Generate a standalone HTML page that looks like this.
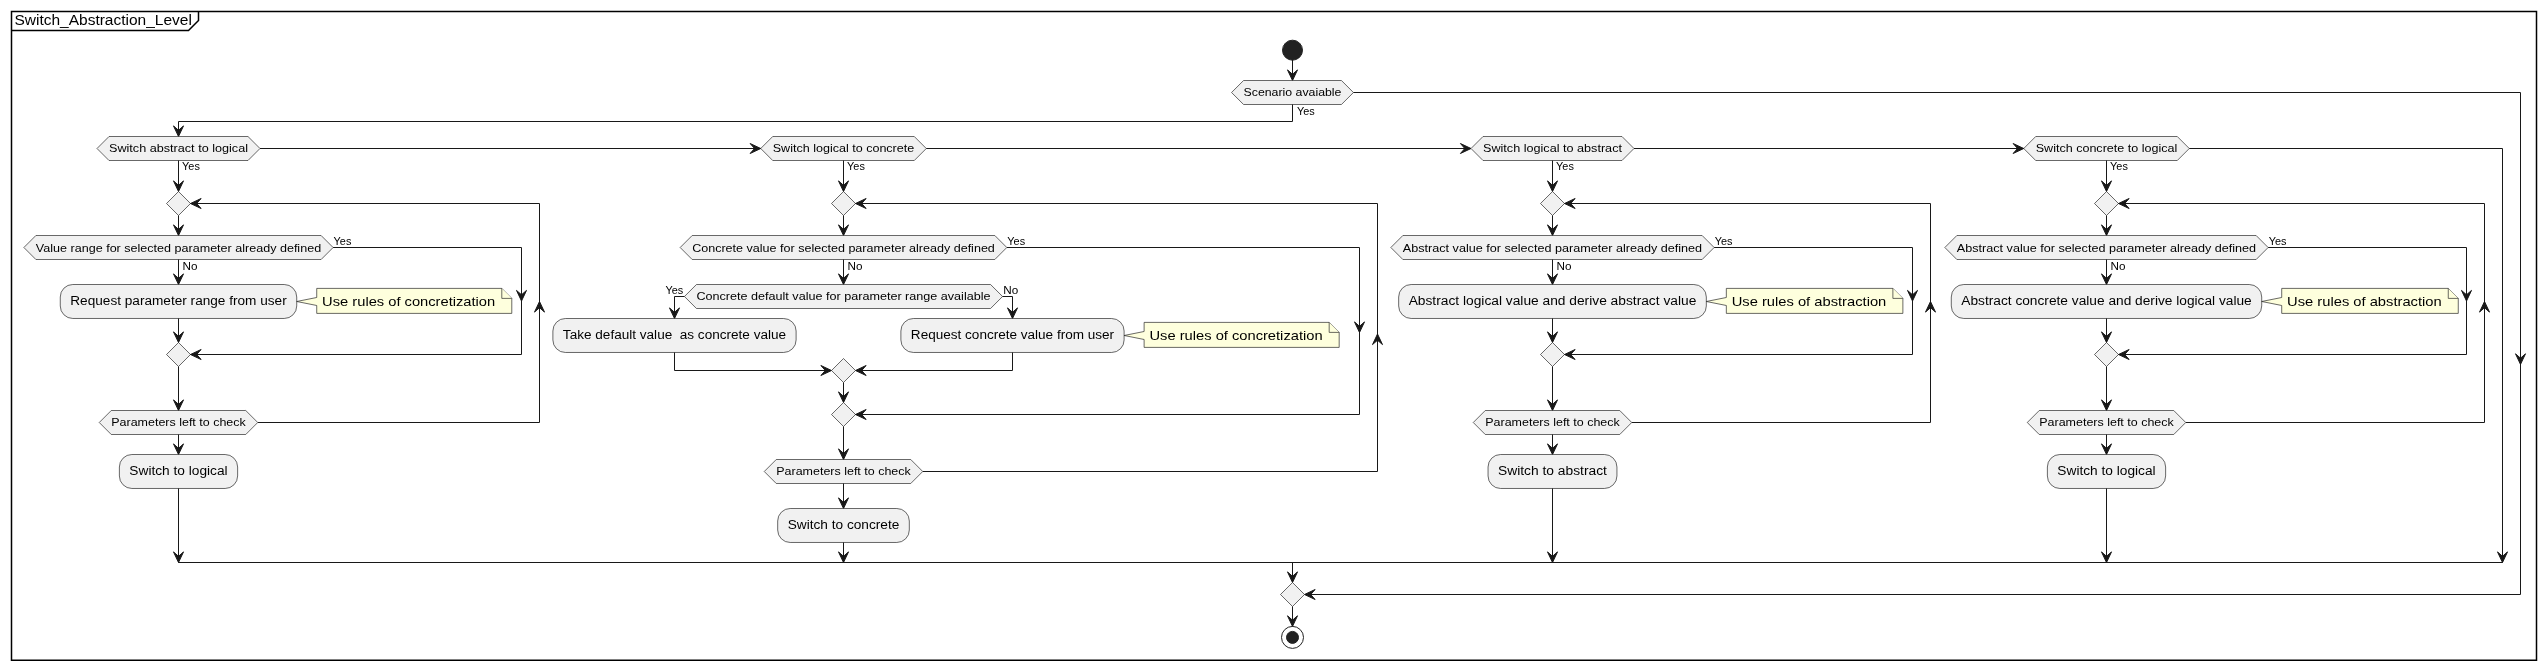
<!DOCTYPE html>
<html><head><meta charset="utf-8"><style>
html,body{margin:0;padding:0;background:#FFFFFF;width:2546px;height:670px;overflow:hidden}
svg{display:block;will-change:transform}
text{font-family:"Liberation Sans",sans-serif}
</style></head><body>
<svg width="2546" height="670" viewBox="0 0 2546 670">
<rect x="11.5" y="11.5" width="2525" height="648.75" fill="none" stroke="#000000" stroke-width="1.5"/>
<polyline points="11.5,30.5 188.5,30.5 198.5,20.5 198.5,11.5" fill="none" stroke="#000000" stroke-width="1.5"/>
<text x="14.5" y="25.2" font-size="14" textLength="177.33" lengthAdjust="spacingAndGlyphs" fill="#000000">Switch_Abstraction_Level</text>
<circle cx="1292.5" cy="50.2" r="10" fill="#222222" stroke="#222222" stroke-width="1"/>
<polyline points="1292.5,60 1292.5,80.5" fill="none" stroke="#181818" stroke-width="1"/>
<polygon points="1287.5,69.9 1292.5,80.5 1297.5,69.9 1292.5,74.3" fill="#181818" stroke="#181818" stroke-width="1"/>
<polygon points="1243.55,80.5 1341.45,80.5 1353.45,92.5 1341.45,104.5 1243.55,104.5 1231.55,92.5" fill="#F1F1F1" stroke="#181818" stroke-width="0.65"/>
<text x="1243.55" y="95.9" font-size="11" textLength="97.91" lengthAdjust="spacingAndGlyphs" fill="#000000">Scenario avaiable</text>
<text x="1297" y="114.8" font-size="11" textLength="17.77" lengthAdjust="spacingAndGlyphs" fill="#000000">Yes</text>
<polyline points="1292.5,104.5 1292.5,121.5 178.5,121.5 178.5,136.5" fill="none" stroke="#181818" stroke-width="1"/>
<polygon points="173.5,125.9 178.5,136.5 183.5,125.9 178.5,130.3" fill="#181818" stroke="#181818" stroke-width="1"/>
<polyline points="1353.45,92.5 2520.5,92.5 2520.5,594.5 1304.5,594.5" fill="none" stroke="#181818" stroke-width="1"/>
<polygon points="2515.5,353.8 2520.5,364.4 2525.5,353.8 2520.5,358.2" fill="#181818" stroke="#181818" stroke-width="1"/>
<polygon points="1315.1,589.5 1304.5,594.5 1315.1,599.5 1310.7,594.5" fill="#181818" stroke="#181818" stroke-width="1"/>
<polygon points="109.01,136.5 247.99,136.5 259.99,148.5 247.99,160.5 109.01,160.5 97.01,148.5" fill="#F1F1F1" stroke="#181818" stroke-width="0.65"/>
<text x="109.01" y="151.9" font-size="11" textLength="138.98" lengthAdjust="spacingAndGlyphs" fill="#000000">Switch abstract to logical</text>
<text x="182.1" y="170.3" font-size="11" textLength="17.77" lengthAdjust="spacingAndGlyphs" fill="#000000">Yes</text>
<polyline points="178.5,160.5 178.5,191.5" fill="none" stroke="#181818" stroke-width="1"/>
<polygon points="173.5,180.9 178.5,191.5 183.5,180.9 178.5,185.3" fill="#181818" stroke="#181818" stroke-width="1"/>
<polygon points="178.5,191.5 190.5,203.5 178.5,215.5 166.5,203.5" fill="#F1F1F1" stroke="#181818" stroke-width="0.65"/>
<polyline points="178.5,215.5 178.5,235.5" fill="none" stroke="#181818" stroke-width="1"/>
<polygon points="173.5,224.9 178.5,235.5 183.5,224.9 178.5,229.3" fill="#181818" stroke="#181818" stroke-width="1"/>
<polygon points="772.73,136.5 914.27,136.5 926.27,148.5 914.27,160.5 772.73,160.5 760.73,148.5" fill="#F1F1F1" stroke="#181818" stroke-width="0.65"/>
<text x="772.73" y="151.9" font-size="11" textLength="141.53" lengthAdjust="spacingAndGlyphs" fill="#000000">Switch logical to concrete</text>
<text x="847.1" y="170.3" font-size="11" textLength="17.77" lengthAdjust="spacingAndGlyphs" fill="#000000">Yes</text>
<polyline points="843.5,160.5 843.5,191.5" fill="none" stroke="#181818" stroke-width="1"/>
<polygon points="838.5,180.9 843.5,191.5 848.5,180.9 843.5,185.3" fill="#181818" stroke="#181818" stroke-width="1"/>
<polygon points="843.5,191.5 855.5,203.5 843.5,215.5 831.5,203.5" fill="#F1F1F1" stroke="#181818" stroke-width="0.65"/>
<polyline points="843.5,215.5 843.5,235.5" fill="none" stroke="#181818" stroke-width="1"/>
<polygon points="838.5,224.9 843.5,235.5 848.5,224.9 843.5,229.3" fill="#181818" stroke="#181818" stroke-width="1"/>
<polygon points="1483.01,136.5 1621.99,136.5 1633.99,148.5 1621.99,160.5 1483.01,160.5 1471.01,148.5" fill="#F1F1F1" stroke="#181818" stroke-width="0.65"/>
<text x="1483.01" y="151.9" font-size="11" textLength="138.98" lengthAdjust="spacingAndGlyphs" fill="#000000">Switch logical to abstract</text>
<text x="1556.1" y="170.3" font-size="11" textLength="17.77" lengthAdjust="spacingAndGlyphs" fill="#000000">Yes</text>
<polyline points="1552.5,160.5 1552.5,191.5" fill="none" stroke="#181818" stroke-width="1"/>
<polygon points="1547.5,180.9 1552.5,191.5 1557.5,180.9 1552.5,185.3" fill="#181818" stroke="#181818" stroke-width="1"/>
<polygon points="1552.5,191.5 1564.5,203.5 1552.5,215.5 1540.5,203.5" fill="#F1F1F1" stroke="#181818" stroke-width="0.65"/>
<polyline points="1552.5,215.5 1552.5,235.5" fill="none" stroke="#181818" stroke-width="1"/>
<polygon points="1547.5,224.9 1552.5,235.5 1557.5,224.9 1552.5,229.3" fill="#181818" stroke="#181818" stroke-width="1"/>
<polygon points="2035.73,136.5 2177.27,136.5 2189.27,148.5 2177.27,160.5 2035.73,160.5 2023.73,148.5" fill="#F1F1F1" stroke="#181818" stroke-width="0.65"/>
<text x="2035.73" y="151.9" font-size="11" textLength="141.53" lengthAdjust="spacingAndGlyphs" fill="#000000">Switch concrete to logical</text>
<text x="2110.1" y="170.3" font-size="11" textLength="17.77" lengthAdjust="spacingAndGlyphs" fill="#000000">Yes</text>
<polyline points="2106.5,160.5 2106.5,191.5" fill="none" stroke="#181818" stroke-width="1"/>
<polygon points="2101.5,180.9 2106.5,191.5 2111.5,180.9 2106.5,185.3" fill="#181818" stroke="#181818" stroke-width="1"/>
<polygon points="2106.5,191.5 2118.5,203.5 2106.5,215.5 2094.5,203.5" fill="#F1F1F1" stroke="#181818" stroke-width="0.65"/>
<polyline points="2106.5,215.5 2106.5,235.5" fill="none" stroke="#181818" stroke-width="1"/>
<polygon points="2101.5,224.9 2106.5,235.5 2111.5,224.9 2106.5,229.3" fill="#181818" stroke="#181818" stroke-width="1"/>
<polyline points="259.99,148.5 760.73,148.5" fill="none" stroke="#181818" stroke-width="1"/>
<polygon points="750.13,143.5 760.73,148.5 750.13,153.5 754.53,148.5" fill="#181818" stroke="#181818" stroke-width="1"/>
<polyline points="926.27,148.5 1471.01,148.5" fill="none" stroke="#181818" stroke-width="1"/>
<polygon points="1460.41,143.5 1471.01,148.5 1460.41,153.5 1464.81,148.5" fill="#181818" stroke="#181818" stroke-width="1"/>
<polyline points="1633.99,148.5 2023.73,148.5" fill="none" stroke="#181818" stroke-width="1"/>
<polygon points="2013.13,143.5 2023.73,148.5 2013.13,153.5 2017.53,148.5" fill="#181818" stroke="#181818" stroke-width="1"/>
<polyline points="2189.27,148.5 2502.5,148.5 2502.5,562.5" fill="none" stroke="#181818" stroke-width="1"/>
<polygon points="2497.5,551.9 2502.5,562.5 2507.5,551.9 2502.5,556.3" fill="#181818" stroke="#181818" stroke-width="1"/>
<polygon points="35.88,235.5 321.12,235.5 333.12,247.5 321.12,259.5 35.88,259.5 23.88,247.5" fill="#F1F1F1" stroke="#181818" stroke-width="0.65"/>
<text x="35.88" y="251.7" font-size="11" textLength="285.25" lengthAdjust="spacingAndGlyphs" fill="#000000">Value range for selected parameter already defined</text>
<text x="333.62" y="244.7" font-size="11" textLength="17.77" lengthAdjust="spacingAndGlyphs" fill="#000000">Yes</text>
<text x="182.5" y="269.5" font-size="11" textLength="14.97" lengthAdjust="spacingAndGlyphs" fill="#000000">No</text>
<polyline points="178.5,259.5 178.5,284.5" fill="none" stroke="#181818" stroke-width="1"/>
<polygon points="173.5,273.9 178.5,284.5 183.5,273.9 178.5,278.3" fill="#181818" stroke="#181818" stroke-width="1"/>
<rect x="60.27" y="284.5" width="236.45" height="33.97" rx="12.5" ry="12.5" fill="#F1F1F1" stroke="#181818" stroke-width="0.65"/>
<text x="70.27" y="304.5" font-size="12" textLength="216.45" lengthAdjust="spacingAndGlyphs" fill="#000000">Request parameter range from user</text>
<path d="M316.73,288.4 L316.73,297.49 L296.73,301.49 L316.73,305.49 L316.73,313.4 L511.79,313.4 L511.79,298.4 L501.79,288.4 Z" fill="#FEFFDD" stroke="#181818" stroke-width="0.65"/>
<path d="M501.79,288.4 L501.79,298.4 L511.79,298.4" fill="#FEFFDD" stroke="#181818" stroke-width="0.65"/>
<text x="322.13" y="305.9" font-size="13" textLength="173.06" lengthAdjust="spacingAndGlyphs" fill="#000000">Use rules of concretization</text>
<polyline points="178.5,318.47 178.5,342.5" fill="none" stroke="#181818" stroke-width="1"/>
<polygon points="173.5,331.9 178.5,342.5 183.5,331.9 178.5,336.3" fill="#181818" stroke="#181818" stroke-width="1"/>
<polygon points="178.5,342.5 190.5,354.5 178.5,366.5 166.5,354.5" fill="#F1F1F1" stroke="#181818" stroke-width="0.65"/>
<polyline points="333.12,247.5 521.5,247.5 521.5,354.5 190.5,354.5" fill="none" stroke="#181818" stroke-width="1"/>
<polygon points="201.1,349.5 190.5,354.5 201.1,359.5 196.7,354.5" fill="#181818" stroke="#181818" stroke-width="1"/>
<polygon points="516.5,290.4 521.5,301 526.5,290.4 521.5,294.8" fill="#181818" stroke="#181818" stroke-width="1"/>
<polyline points="178.5,366.5 178.5,410.5" fill="none" stroke="#181818" stroke-width="1"/>
<polygon points="173.5,399.9 178.5,410.5 183.5,399.9 178.5,404.3" fill="#181818" stroke="#181818" stroke-width="1"/>
<polygon points="111.24,410.5 245.76,410.5 257.76,422.5 245.76,434.5 111.24,434.5 99.24,422.5" fill="#F1F1F1" stroke="#181818" stroke-width="0.65"/>
<text x="111.24" y="425.9" font-size="11" textLength="134.52" lengthAdjust="spacingAndGlyphs" fill="#000000">Parameters left to check</text>
<polyline points="257.76,422.5 539.5,422.5 539.5,203.5 190.5,203.5" fill="none" stroke="#181818" stroke-width="1"/>
<polygon points="201.1,198.5 190.5,203.5 201.1,208.5 196.7,203.5" fill="#181818" stroke="#181818" stroke-width="1"/>
<polygon points="534.5,312.1 539.5,301.5 544.5,312.1 539.5,307.7" fill="#181818" stroke="#181818" stroke-width="1"/>
<polyline points="178.5,434.5 178.5,454.5" fill="none" stroke="#181818" stroke-width="1"/>
<polygon points="173.5,443.9 178.5,454.5 183.5,443.9 178.5,448.3" fill="#181818" stroke="#181818" stroke-width="1"/>
<rect x="119.38" y="454.5" width="118.25" height="33.97" rx="12.5" ry="12.5" fill="#F1F1F1" stroke="#181818" stroke-width="0.65"/>
<text x="129.38" y="474.5" font-size="12" textLength="98.25" lengthAdjust="spacingAndGlyphs" fill="#000000">Switch to logical</text>
<polyline points="178.5,488.47 178.5,562.5" fill="none" stroke="#181818" stroke-width="1"/>
<polygon points="173.5,551.9 178.5,562.5 183.5,551.9 178.5,556.3" fill="#181818" stroke="#181818" stroke-width="1"/>
<polygon points="1402.85,235.5 1702.15,235.5 1714.15,247.5 1702.15,259.5 1402.85,259.5 1390.85,247.5" fill="#F1F1F1" stroke="#181818" stroke-width="0.65"/>
<text x="1402.85" y="251.7" font-size="11" textLength="299.3" lengthAdjust="spacingAndGlyphs" fill="#000000">Abstract value for selected parameter already defined</text>
<text x="1714.65" y="244.7" font-size="11" textLength="17.77" lengthAdjust="spacingAndGlyphs" fill="#000000">Yes</text>
<text x="1556.5" y="269.5" font-size="11" textLength="14.97" lengthAdjust="spacingAndGlyphs" fill="#000000">No</text>
<polyline points="1552.5,259.5 1552.5,284.5" fill="none" stroke="#181818" stroke-width="1"/>
<polygon points="1547.5,273.9 1552.5,284.5 1557.5,273.9 1552.5,278.3" fill="#181818" stroke="#181818" stroke-width="1"/>
<rect x="1398.67" y="284.5" width="307.66" height="33.97" rx="12.5" ry="12.5" fill="#F1F1F1" stroke="#181818" stroke-width="0.65"/>
<text x="1408.67" y="304.5" font-size="12" textLength="287.66" lengthAdjust="spacingAndGlyphs" fill="#000000">Abstract logical value and derive abstract value</text>
<path d="M1726.33,288.4 L1726.33,297.49 L1706.33,301.49 L1726.33,305.49 L1726.33,313.4 L1902.89,313.4 L1902.89,298.4 L1892.89,288.4 Z" fill="#FEFFDD" stroke="#181818" stroke-width="0.65"/>
<path d="M1892.89,288.4 L1892.89,298.4 L1902.89,298.4" fill="#FEFFDD" stroke="#181818" stroke-width="0.65"/>
<text x="1731.73" y="305.9" font-size="13" textLength="154.56" lengthAdjust="spacingAndGlyphs" fill="#000000">Use rules of abstraction</text>
<polyline points="1552.5,318.47 1552.5,342.5" fill="none" stroke="#181818" stroke-width="1"/>
<polygon points="1547.5,331.9 1552.5,342.5 1557.5,331.9 1552.5,336.3" fill="#181818" stroke="#181818" stroke-width="1"/>
<polygon points="1552.5,342.5 1564.5,354.5 1552.5,366.5 1540.5,354.5" fill="#F1F1F1" stroke="#181818" stroke-width="0.65"/>
<polyline points="1714.15,247.5 1912.5,247.5 1912.5,354.5 1564.5,354.5" fill="none" stroke="#181818" stroke-width="1"/>
<polygon points="1575.1,349.5 1564.5,354.5 1575.1,359.5 1570.7,354.5" fill="#181818" stroke="#181818" stroke-width="1"/>
<polygon points="1907.5,290.4 1912.5,301 1917.5,290.4 1912.5,294.8" fill="#181818" stroke="#181818" stroke-width="1"/>
<polyline points="1552.5,366.5 1552.5,410.5" fill="none" stroke="#181818" stroke-width="1"/>
<polygon points="1547.5,399.9 1552.5,410.5 1557.5,399.9 1552.5,404.3" fill="#181818" stroke="#181818" stroke-width="1"/>
<polygon points="1485.24,410.5 1619.76,410.5 1631.76,422.5 1619.76,434.5 1485.24,434.5 1473.24,422.5" fill="#F1F1F1" stroke="#181818" stroke-width="0.65"/>
<text x="1485.24" y="425.9" font-size="11" textLength="134.52" lengthAdjust="spacingAndGlyphs" fill="#000000">Parameters left to check</text>
<polyline points="1631.76,422.5 1930.5,422.5 1930.5,203.5 1564.5,203.5" fill="none" stroke="#181818" stroke-width="1"/>
<polygon points="1575.1,198.5 1564.5,203.5 1575.1,208.5 1570.7,203.5" fill="#181818" stroke="#181818" stroke-width="1"/>
<polygon points="1925.5,312.1 1930.5,301.5 1935.5,312.1 1930.5,307.7" fill="#181818" stroke="#181818" stroke-width="1"/>
<polyline points="1552.5,434.5 1552.5,454.5" fill="none" stroke="#181818" stroke-width="1"/>
<polygon points="1547.5,443.9 1552.5,454.5 1557.5,443.9 1552.5,448.3" fill="#181818" stroke="#181818" stroke-width="1"/>
<rect x="1488.06" y="454.5" width="128.88" height="33.97" rx="12.5" ry="12.5" fill="#F1F1F1" stroke="#181818" stroke-width="0.65"/>
<text x="1498.06" y="474.5" font-size="12" textLength="108.88" lengthAdjust="spacingAndGlyphs" fill="#000000">Switch to abstract</text>
<polyline points="1552.5,488.47 1552.5,562.5" fill="none" stroke="#181818" stroke-width="1"/>
<polygon points="1547.5,551.9 1552.5,562.5 1557.5,551.9 1552.5,556.3" fill="#181818" stroke="#181818" stroke-width="1"/>
<polygon points="1956.85,235.5 2256.15,235.5 2268.15,247.5 2256.15,259.5 1956.85,259.5 1944.85,247.5" fill="#F1F1F1" stroke="#181818" stroke-width="0.65"/>
<text x="1956.85" y="251.7" font-size="11" textLength="299.3" lengthAdjust="spacingAndGlyphs" fill="#000000">Abstract value for selected parameter already defined</text>
<text x="2268.65" y="244.7" font-size="11" textLength="17.77" lengthAdjust="spacingAndGlyphs" fill="#000000">Yes</text>
<text x="2110.5" y="269.5" font-size="11" textLength="14.97" lengthAdjust="spacingAndGlyphs" fill="#000000">No</text>
<polyline points="2106.5,259.5 2106.5,284.5" fill="none" stroke="#181818" stroke-width="1"/>
<polygon points="2101.5,273.9 2106.5,284.5 2111.5,273.9 2106.5,278.3" fill="#181818" stroke="#181818" stroke-width="1"/>
<rect x="1951.29" y="284.5" width="310.42" height="33.97" rx="12.5" ry="12.5" fill="#F1F1F1" stroke="#181818" stroke-width="0.65"/>
<text x="1961.29" y="304.5" font-size="12" textLength="290.42" lengthAdjust="spacingAndGlyphs" fill="#000000">Abstract concrete value and derive logical value</text>
<path d="M2281.71,288.4 L2281.71,297.49 L2261.71,301.49 L2281.71,305.49 L2281.71,313.4 L2458.27,313.4 L2458.27,298.4 L2448.27,288.4 Z" fill="#FEFFDD" stroke="#181818" stroke-width="0.65"/>
<path d="M2448.27,288.4 L2448.27,298.4 L2458.27,298.4" fill="#FEFFDD" stroke="#181818" stroke-width="0.65"/>
<text x="2287.11" y="305.9" font-size="13" textLength="154.56" lengthAdjust="spacingAndGlyphs" fill="#000000">Use rules of abstraction</text>
<polyline points="2106.5,318.47 2106.5,342.5" fill="none" stroke="#181818" stroke-width="1"/>
<polygon points="2101.5,331.9 2106.5,342.5 2111.5,331.9 2106.5,336.3" fill="#181818" stroke="#181818" stroke-width="1"/>
<polygon points="2106.5,342.5 2118.5,354.5 2106.5,366.5 2094.5,354.5" fill="#F1F1F1" stroke="#181818" stroke-width="0.65"/>
<polyline points="2268.15,247.5 2466.5,247.5 2466.5,354.5 2118.5,354.5" fill="none" stroke="#181818" stroke-width="1"/>
<polygon points="2129.1,349.5 2118.5,354.5 2129.1,359.5 2124.7,354.5" fill="#181818" stroke="#181818" stroke-width="1"/>
<polygon points="2461.5,290.4 2466.5,301 2471.5,290.4 2466.5,294.8" fill="#181818" stroke="#181818" stroke-width="1"/>
<polyline points="2106.5,366.5 2106.5,410.5" fill="none" stroke="#181818" stroke-width="1"/>
<polygon points="2101.5,399.9 2106.5,410.5 2111.5,399.9 2106.5,404.3" fill="#181818" stroke="#181818" stroke-width="1"/>
<polygon points="2039.24,410.5 2173.76,410.5 2185.76,422.5 2173.76,434.5 2039.24,434.5 2027.24,422.5" fill="#F1F1F1" stroke="#181818" stroke-width="0.65"/>
<text x="2039.24" y="425.9" font-size="11" textLength="134.52" lengthAdjust="spacingAndGlyphs" fill="#000000">Parameters left to check</text>
<polyline points="2185.76,422.5 2484.5,422.5 2484.5,203.5 2118.5,203.5" fill="none" stroke="#181818" stroke-width="1"/>
<polygon points="2129.1,198.5 2118.5,203.5 2129.1,208.5 2124.7,203.5" fill="#181818" stroke="#181818" stroke-width="1"/>
<polygon points="2479.5,312.1 2484.5,301.5 2489.5,312.1 2484.5,307.7" fill="#181818" stroke="#181818" stroke-width="1"/>
<polyline points="2106.5,434.5 2106.5,454.5" fill="none" stroke="#181818" stroke-width="1"/>
<polygon points="2101.5,443.9 2106.5,454.5 2111.5,443.9 2106.5,448.3" fill="#181818" stroke="#181818" stroke-width="1"/>
<rect x="2047.38" y="454.5" width="118.25" height="33.97" rx="12.5" ry="12.5" fill="#F1F1F1" stroke="#181818" stroke-width="0.65"/>
<text x="2057.38" y="474.5" font-size="12" textLength="98.25" lengthAdjust="spacingAndGlyphs" fill="#000000">Switch to logical</text>
<polyline points="2106.5,488.47 2106.5,562.5" fill="none" stroke="#181818" stroke-width="1"/>
<polygon points="2101.5,551.9 2106.5,562.5 2111.5,551.9 2106.5,556.3" fill="#181818" stroke="#181818" stroke-width="1"/>
<polygon points="692.16,235.5 994.84,235.5 1006.84,247.5 994.84,259.5 692.16,259.5 680.16,247.5" fill="#F1F1F1" stroke="#181818" stroke-width="0.65"/>
<text x="692.16" y="251.7" font-size="11" textLength="302.69" lengthAdjust="spacingAndGlyphs" fill="#000000">Concrete value for selected parameter already defined</text>
<text x="1007.34" y="244.7" font-size="11" textLength="17.77" lengthAdjust="spacingAndGlyphs" fill="#000000">Yes</text>
<text x="847.5" y="269.5" font-size="11" textLength="14.97" lengthAdjust="spacingAndGlyphs" fill="#000000">No</text>
<polyline points="843.5,259.5 843.5,284.5" fill="none" stroke="#181818" stroke-width="1"/>
<polygon points="838.5,273.9 843.5,284.5 848.5,273.9 843.5,278.3" fill="#181818" stroke="#181818" stroke-width="1"/>
<polygon points="696.45,284.5 990.55,284.5 1002.55,296.5 990.55,308.5 696.45,308.5 684.45,296.5" fill="#F1F1F1" stroke="#181818" stroke-width="0.65"/>
<text x="696.45" y="299.9" font-size="11" textLength="294.11" lengthAdjust="spacingAndGlyphs" fill="#000000">Concrete default value for parameter range available</text>
<text x="665.4" y="293.7" font-size="11" textLength="17.77" lengthAdjust="spacingAndGlyphs" fill="#000000">Yes</text>
<text x="1003.25" y="293.7" font-size="11" textLength="14.97" lengthAdjust="spacingAndGlyphs" fill="#000000">No</text>
<polyline points="684.45,296.5 674.5,296.5 674.5,318.5" fill="none" stroke="#181818" stroke-width="1"/>
<polygon points="669.5,307.9 674.5,318.5 679.5,307.9 674.5,312.3" fill="#181818" stroke="#181818" stroke-width="1"/>
<polyline points="1002.55,296.5 1012.5,296.5 1012.5,318.5" fill="none" stroke="#181818" stroke-width="1"/>
<polygon points="1007.5,307.9 1012.5,318.5 1017.5,307.9 1012.5,312.3" fill="#181818" stroke="#181818" stroke-width="1"/>
<rect x="552.88" y="318.5" width="243.23" height="33.97" rx="12.5" ry="12.5" fill="#F1F1F1" stroke="#181818" stroke-width="0.65"/>
<text x="562.88" y="338.5" font-size="12" textLength="223.23" lengthAdjust="spacingAndGlyphs" fill="#000000">Take default value &#160;as concrete value</text>
<rect x="900.88" y="318.5" width="223.23" height="33.97" rx="12.5" ry="12.5" fill="#F1F1F1" stroke="#181818" stroke-width="0.65"/>
<text x="910.88" y="338.5" font-size="12" textLength="203.23" lengthAdjust="spacingAndGlyphs" fill="#000000">Request concrete value from user</text>
<path d="M1144.12,322.4 L1144.12,331.49 L1124.12,335.49 L1144.12,339.49 L1144.12,347.4 L1339.18,347.4 L1339.18,332.4 L1329.18,322.4 Z" fill="#FEFFDD" stroke="#181818" stroke-width="0.65"/>
<path d="M1329.18,322.4 L1329.18,332.4 L1339.18,332.4" fill="#FEFFDD" stroke="#181818" stroke-width="0.65"/>
<text x="1149.52" y="339.9" font-size="13" textLength="173.06" lengthAdjust="spacingAndGlyphs" fill="#000000">Use rules of concretization</text>
<polyline points="674.5,352.47 674.5,370.5 831.5,370.5" fill="none" stroke="#181818" stroke-width="1"/>
<polygon points="820.9,365.5 831.5,370.5 820.9,375.5 825.3,370.5" fill="#181818" stroke="#181818" stroke-width="1"/>
<polyline points="1012.5,352.47 1012.5,370.5 855.5,370.5" fill="none" stroke="#181818" stroke-width="1"/>
<polygon points="866.1,365.5 855.5,370.5 866.1,375.5 861.7,370.5" fill="#181818" stroke="#181818" stroke-width="1"/>
<polygon points="843.5,358.5 855.5,370.5 843.5,382.5 831.5,370.5" fill="#F1F1F1" stroke="#181818" stroke-width="0.65"/>
<polyline points="843.5,382.5 843.5,402.5" fill="none" stroke="#181818" stroke-width="1"/>
<polygon points="838.5,391.9 843.5,402.5 848.5,391.9 843.5,396.3" fill="#181818" stroke="#181818" stroke-width="1"/>
<polygon points="843.5,402.5 855.5,414.5 843.5,426.5 831.5,414.5" fill="#F1F1F1" stroke="#181818" stroke-width="0.65"/>
<polyline points="1006.84,247.5 1359.5,247.5 1359.5,414.5 855.5,414.5" fill="none" stroke="#181818" stroke-width="1"/>
<polygon points="866.1,409.5 855.5,414.5 866.1,419.5 861.7,414.5" fill="#181818" stroke="#181818" stroke-width="1"/>
<polygon points="1354.5,321.9 1359.5,332.5 1364.5,321.9 1359.5,326.3" fill="#181818" stroke="#181818" stroke-width="1"/>
<polyline points="843.5,426.5 843.5,459.5" fill="none" stroke="#181818" stroke-width="1"/>
<polygon points="838.5,448.9 843.5,459.5 848.5,448.9 843.5,453.3" fill="#181818" stroke="#181818" stroke-width="1"/>
<polygon points="776.24,459.5 910.76,459.5 922.76,471.5 910.76,483.5 776.24,483.5 764.24,471.5" fill="#F1F1F1" stroke="#181818" stroke-width="0.65"/>
<text x="776.24" y="474.9" font-size="11" textLength="134.52" lengthAdjust="spacingAndGlyphs" fill="#000000">Parameters left to check</text>
<polyline points="922.76,471.5 1377.5,471.5 1377.5,203.5 855.5,203.5" fill="none" stroke="#181818" stroke-width="1"/>
<polygon points="866.1,198.5 855.5,203.5 866.1,208.5 861.7,203.5" fill="#181818" stroke="#181818" stroke-width="1"/>
<polygon points="1372.5,344.6 1377.5,334 1382.5,344.6 1377.5,340.2" fill="#181818" stroke="#181818" stroke-width="1"/>
<polyline points="843.5,483.5 843.5,508.5" fill="none" stroke="#181818" stroke-width="1"/>
<polygon points="838.5,497.9 843.5,508.5 848.5,497.9 843.5,502.3" fill="#181818" stroke="#181818" stroke-width="1"/>
<rect x="777.68" y="508.5" width="131.64" height="33.97" rx="12.5" ry="12.5" fill="#F1F1F1" stroke="#181818" stroke-width="0.65"/>
<text x="787.68" y="528.5" font-size="12" textLength="111.64" lengthAdjust="spacingAndGlyphs" fill="#000000">Switch to concrete</text>
<polyline points="843.5,542.47 843.5,562.5" fill="none" stroke="#181818" stroke-width="1"/>
<polygon points="838.5,551.9 843.5,562.5 848.5,551.9 843.5,556.3" fill="#181818" stroke="#181818" stroke-width="1"/>
<polyline points="178.5,562.5 2502.5,562.5" fill="none" stroke="#181818" stroke-width="1"/>
<polyline points="1292.5,562.5 1292.5,582.5" fill="none" stroke="#181818" stroke-width="1"/>
<polygon points="1287.5,571.9 1292.5,582.5 1297.5,571.9 1292.5,576.3" fill="#181818" stroke="#181818" stroke-width="1"/>
<polygon points="1292.5,582.5 1304.5,594.5 1292.5,606.5 1280.5,594.5" fill="#F1F1F1" stroke="#181818" stroke-width="0.65"/>
<polyline points="1292.5,606.5 1292.5,626.4" fill="none" stroke="#181818" stroke-width="1"/>
<polygon points="1287.5,615.8 1292.5,626.4 1297.5,615.8 1292.5,620.2" fill="#181818" stroke="#181818" stroke-width="1"/>
<circle cx="1292.5" cy="637.4" r="11" fill="none" stroke="#222222" stroke-width="1"/>
<circle cx="1292.5" cy="637.4" r="6" fill="#222222" stroke="#222222" stroke-width="1"/>
</svg>
</body></html>
